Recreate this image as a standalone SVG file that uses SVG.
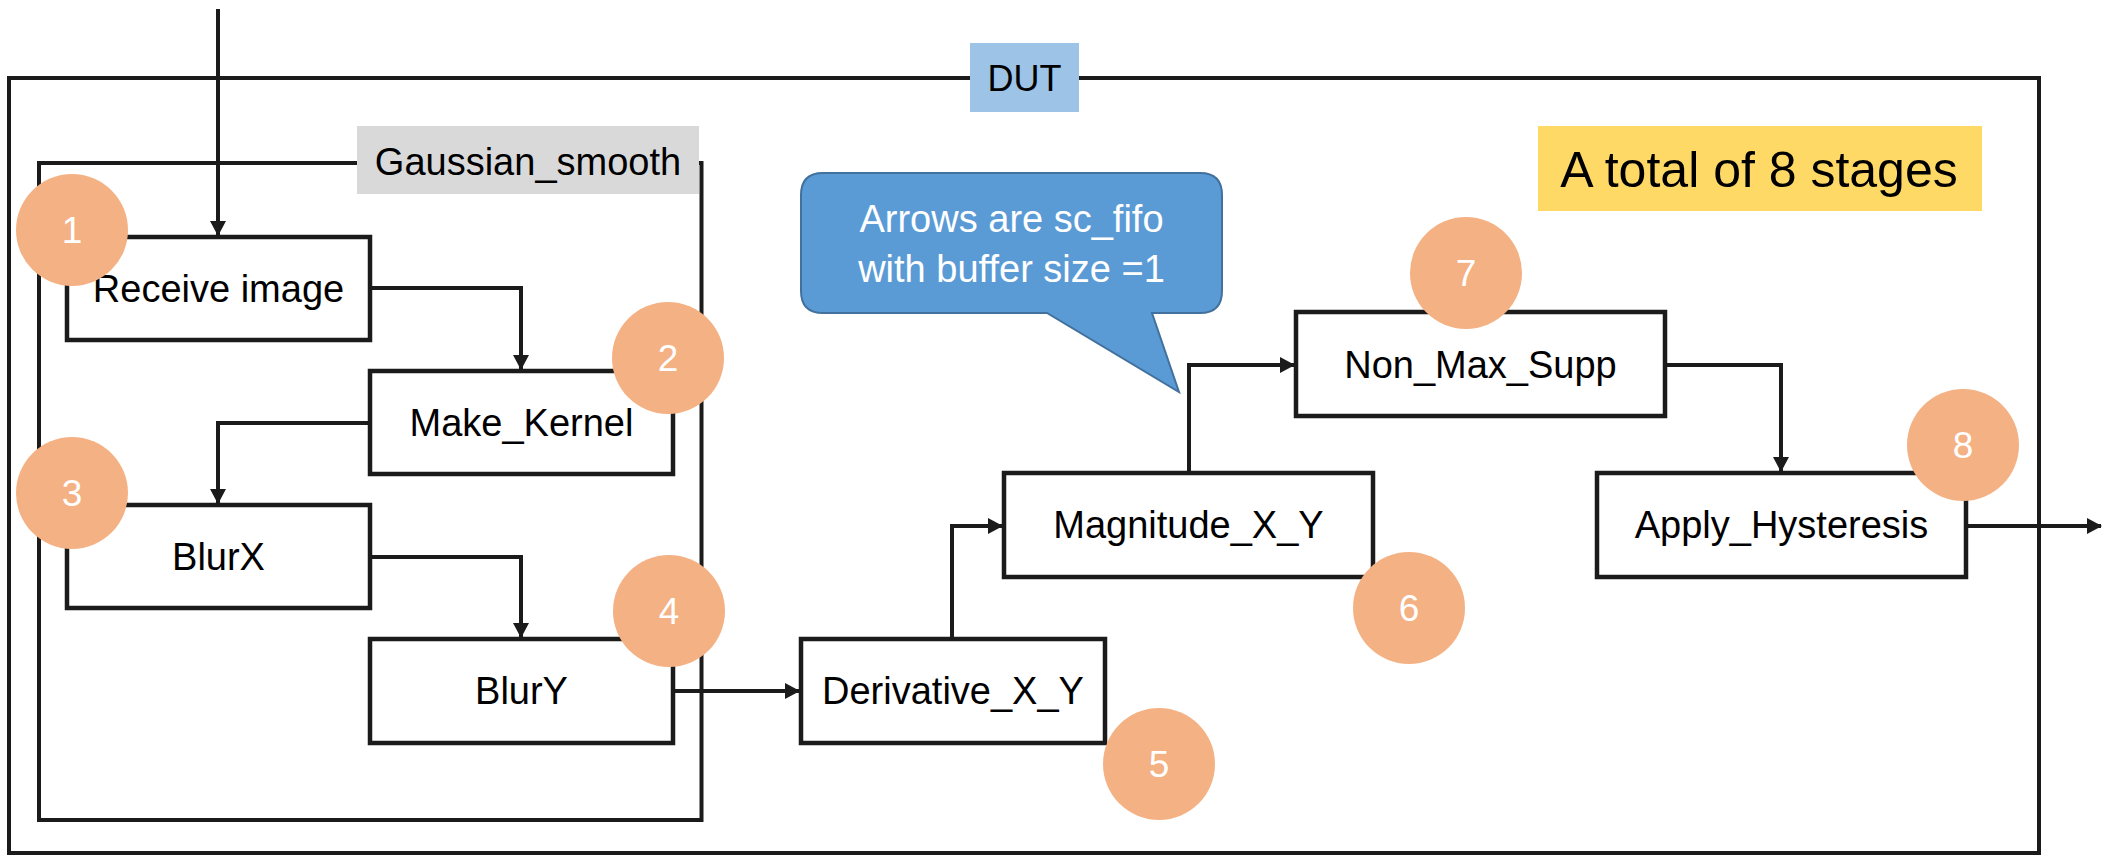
<svg xmlns="http://www.w3.org/2000/svg" width="2103" height="855" viewBox="0 0 2103 855">
<style>
.box{fill:#ffffff;stroke:#1b1b1b;stroke-width:4.5}
.frame{fill:none;stroke:#1b1b1b;stroke-width:4}
.con{fill:none;stroke:#1b1b1b;stroke-width:4}
.lbl{font-family:"Liberation Sans",Arial,sans-serif;font-size:38px;fill:#000;text-anchor:middle}
.num{font-family:"Liberation Sans",Arial,sans-serif;font-size:37px;fill:#fff;text-anchor:middle}
.stage{fill:#f4b183}
</style>
<defs>
<marker id="ah" markerUnits="userSpaceOnUse" markerWidth="15" markerHeight="16" refX="14" refY="8" orient="auto">
<path d="M0,0 L15,8 L0,16 z" fill="#1b1b1b"/>
</marker>
</defs>
<rect width="2103" height="855" fill="#ffffff"/>

<g id="dut">
<rect class="frame" x="9" y="78" width="2030" height="775"/>
<rect x="970" y="43" width="109" height="69" fill="#9dc3e6"/>
<text class="lbl" x="1024.5" y="91" style="font-size:36px">DUT</text>
</g>

<g id="gaussian_smooth">
<rect class="frame" x="39" y="163" width="662.5" height="657"/>
<rect x="357" y="126" width="342" height="68" fill="#d9d9d9"/>
<text class="lbl" x="528" y="175">Gaussian_smooth</text>
</g>

<g id="total_note">
<rect x="1538" y="126" width="444" height="85" fill="#ffd966"/>
<text class="lbl" x="1759" y="187" style="font-size:50px">A total of 8 stages</text>
</g>

<g id="callout">
<path d="M823,173 H1200 Q1222,173 1222,195 V291 Q1222,313 1200,313 H1152 L1179,392 L1047,313 H823 Q801,313 801,291 V195 Q801,173 823,173 Z" fill="#5b9bd5" stroke="#41719c" stroke-width="2"/>
<text class="lbl" x="1011.5" y="232" style="fill:#fff">Arrows are sc_fifo</text>
<text class="lbl" x="1011.5" y="282" style="fill:#fff">with buffer size =1</text>
</g>

<g id="connectors">
<path class="con" d="M218,9 V235" marker-end="url(#ah)"/>
<path class="con" d="M370,288 H521 V369" marker-end="url(#ah)"/>
<path class="con" d="M370,423 H218 V503" marker-end="url(#ah)"/>
<path class="con" d="M370,557 H521 V637" marker-end="url(#ah)"/>
<path class="con" d="M673,691 H799" marker-end="url(#ah)"/>
<path class="con" d="M952,639 V526 H1002" marker-end="url(#ah)"/>
<path class="con" d="M1189,473 V365 H1294" marker-end="url(#ah)"/>
<path class="con" d="M1665,365 H1781 V471" marker-end="url(#ah)"/>
<path class="con" d="M1966,526 H2101" marker-end="url(#ah)"/>
</g>

<g id="receive_image">
<rect class="box" x="67" y="237" width="303" height="103"/>
<text class="lbl" x="218.5" y="302">Receive image</text>
</g>
<g id="make_kernel">
<rect class="box" x="370" y="371" width="303" height="103"/>
<text class="lbl" x="521.5" y="436">Make_Kernel</text>
</g>
<g id="blurx">
<rect class="box" x="67" y="505" width="303" height="103"/>
<text class="lbl" x="218.5" y="570">BlurX</text>
</g>
<g id="blury">
<rect class="box" x="370" y="639" width="303" height="104"/>
<text class="lbl" x="521.5" y="704">BlurY</text>
</g>
<g id="derivative_x_y">
<rect class="box" x="801" y="639" width="304" height="104"/>
<text class="lbl" x="953" y="704">Derivative_X_Y</text>
</g>
<g id="magnitude_x_y">
<rect class="box" x="1004" y="473" width="369" height="104"/>
<text class="lbl" x="1188.5" y="538">Magnitude_X_Y</text>
</g>
<g id="non_max_supp">
<rect class="box" x="1296" y="312" width="369" height="104"/>
<text class="lbl" x="1480.5" y="378">Non_Max_Supp</text>
</g>
<g id="apply_hysteresis">
<rect class="box" x="1597" y="473" width="369" height="104"/>
<text class="lbl" x="1781.5" y="538">Apply_Hysteresis</text>
</g>

<g id="stage1"><circle class="stage" cx="72" cy="230" r="56"/><text class="num" x="72" y="243">1</text></g>
<g id="stage2"><circle class="stage" cx="668" cy="358" r="56"/><text class="num" x="668" y="371">2</text></g>
<g id="stage3"><circle class="stage" cx="72" cy="493" r="56"/><text class="num" x="72" y="506">3</text></g>
<g id="stage4"><circle class="stage" cx="669" cy="611" r="56"/><text class="num" x="669" y="624">4</text></g>
<g id="stage5"><circle class="stage" cx="1159" cy="764" r="56"/><text class="num" x="1159" y="777">5</text></g>
<g id="stage6"><circle class="stage" cx="1409" cy="608" r="56"/><text class="num" x="1409" y="621">6</text></g>
<g id="stage7"><circle class="stage" cx="1466" cy="273" r="56"/><text class="num" x="1466" y="286">7</text></g>
<g id="stage8"><circle class="stage" cx="1963" cy="445" r="56"/><text class="num" x="1963" y="458">8</text></g>
</svg>
